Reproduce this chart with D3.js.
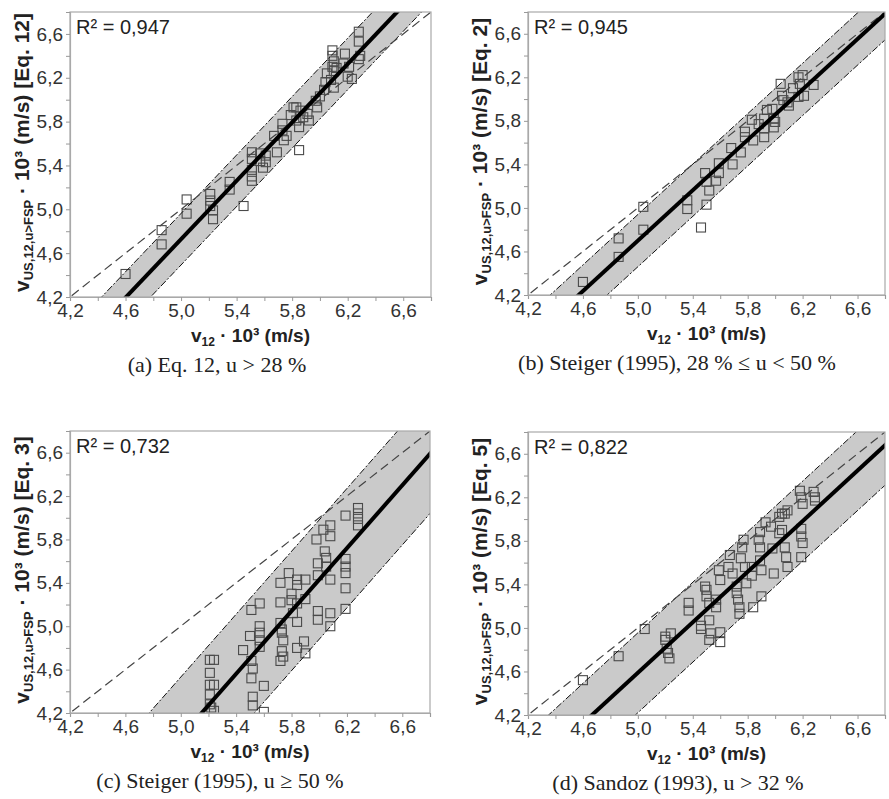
<!DOCTYPE html>
<html>
<head>
<meta charset="utf-8">
<script src="https://cdn.jsdelivr.net/npm/d3@7"></script>
<style>
  html, body { margin: 0; padding: 0; background: #fff; }
  svg { display: block; }
</style>
</head>
<body>
<svg id="chart" width="889" height="799"></svg>
<script>
// ---- data ----
const tickValues = [4.2, 4.4, 4.6, 4.8, 5.0, 5.2, 5.4, 5.6, 5.8, 6.0, 6.2, 6.4, 6.6, 6.8];
const majorTicks = [4.2, 4.6, 5.0, 5.4, 5.8, 6.2, 6.6];
const majorLabels = ['4,2', '4,6', '5,0', '5,4', '5,8', '6,2', '6,6'];

const ptsA = [
  [4.60, 4.41], [4.86, 4.81], [4.86, 4.68], [5.04, 5.09], [5.04, 4.96],
  [5.21, 5.14], [5.21, 5.08], [5.21, 5.03], [5.23, 4.99], [5.23, 4.91],
  [5.35, 5.25], [5.35, 5.18], [5.45, 5.03], [5.51, 5.52], [5.51, 5.46],
  [5.51, 5.36], [5.51, 5.30], [5.51, 5.26], [5.57, 5.51], [5.57, 5.44],
  [5.59, 5.38], [5.61, 5.49], [5.61, 5.43], [5.69, 5.52], [5.67, 5.67],
  [5.73, 5.78], [5.73, 5.72], [5.74, 5.63], [5.76, 5.67], [5.79, 5.86],
  [5.83, 5.93], [5.83, 5.81], [5.85, 5.75], [5.85, 5.54], [5.81, 5.93],
  [5.86, 5.90], [5.88, 5.84], [5.91, 5.87], [5.92, 5.81], [5.97, 5.99],
  [5.98, 5.93], [6.00, 6.03], [6.03, 6.09], [6.04, 6.16], [6.05, 6.24],
  [6.08, 6.18], [6.09, 6.30], [6.09, 6.45], [6.09, 6.40], [6.10, 6.35],
  [6.10, 6.26], [6.10, 6.11], [6.12, 6.29], [6.17, 6.33], [6.18, 6.42],
  [6.20, 6.21], [6.21, 6.30], [6.23, 6.19], [6.28, 6.62], [6.28, 6.53],
  [6.28, 6.37], [6.29, 6.40]
];

const ptsB = [
  [4.60, 4.32], [4.86, 4.72], [4.86, 4.55], [5.04, 5.01], [5.04, 4.80],
  [5.36, 5.07], [5.36, 4.99], [5.46, 4.82], [5.49, 5.32], [5.50, 5.24],
  [5.50, 5.03], [5.52, 5.16], [5.57, 5.25], [5.59, 5.41], [5.59, 5.32],
  [5.68, 5.55], [5.69, 5.40], [5.75, 5.51], [5.78, 5.70], [5.78, 5.65],
  [5.83, 5.81], [5.84, 5.62], [5.88, 5.77], [5.92, 5.82], [5.92, 5.73],
  [5.92, 5.65], [5.94, 5.90], [5.98, 5.91], [5.99, 5.82], [5.99, 5.74],
  [6.00, 5.79], [6.04, 6.14], [6.05, 6.03], [6.06, 5.99], [6.09, 5.97],
  [6.10, 5.94], [6.13, 6.10], [6.17, 6.20], [6.17, 6.02], [6.18, 6.14],
  [6.20, 6.22], [6.21, 6.03], [6.28, 6.13]
];

const ptsC = [
  [5.21, 4.69], [5.21, 4.57], [5.21, 4.46], [5.21, 4.37], [5.21, 4.28],
  [5.22, 4.25], [5.24, 4.22], [5.24, 4.69], [5.24, 4.46], [5.45, 4.78],
  [5.50, 4.91], [5.51, 5.15], [5.51, 4.68], [5.52, 4.61], [5.51, 4.52],
  [5.52, 4.35], [5.52, 4.27], [5.57, 5.21], [5.57, 5.00], [5.57, 4.94],
  [5.57, 4.87], [5.57, 4.81], [5.60, 4.45], [5.60, 4.21], [5.72, 5.40],
  [5.72, 5.22], [5.72, 5.03], [5.73, 4.97], [5.73, 4.94], [5.74, 4.87],
  [5.73, 4.77], [5.72, 4.68], [5.74, 4.72], [5.78, 5.49], [5.80, 5.30],
  [5.80, 5.24], [5.81, 5.12], [5.84, 5.43], [5.84, 5.38], [5.84, 5.21],
  [5.84, 5.04], [5.84, 4.80], [5.90, 5.43], [5.90, 5.25], [5.89, 4.86],
  [5.90, 4.75], [5.98, 5.80], [5.99, 5.58], [5.99, 5.47], [5.99, 5.14],
  [5.99, 5.06], [6.03, 5.89], [6.04, 5.69], [6.05, 5.63], [6.05, 5.55],
  [6.08, 5.83], [6.08, 5.93], [6.08, 5.43], [6.08, 5.12], [6.08, 5.00],
  [6.19, 6.02], [6.19, 5.62], [6.19, 5.55], [6.19, 5.49], [6.19, 5.35],
  [6.19, 5.16], [6.28, 6.09], [6.28, 6.04], [6.28, 5.99], [6.28, 5.93]
];

const ptsD = [
  [4.60, 4.52], [4.86, 4.74], [5.05, 4.99], [5.20, 4.92], [5.20, 4.89],
  [5.21, 4.81], [5.22, 4.77], [5.23, 4.72], [5.24, 4.95], [5.37, 5.23],
  [5.37, 5.16], [5.46, 5.02], [5.46, 4.99], [5.49, 5.38], [5.50, 5.35],
  [5.50, 5.29], [5.52, 5.23], [5.52, 5.07], [5.53, 4.95], [5.52, 4.89],
  [5.57, 5.26], [5.57, 5.19], [5.59, 5.53], [5.60, 5.44], [5.60, 4.96],
  [5.60, 4.87], [5.66, 5.56], [5.67, 5.67], [5.69, 5.50], [5.72, 5.38],
  [5.72, 5.32], [5.73, 5.26], [5.74, 5.19], [5.74, 5.13], [5.75, 5.64],
  [5.76, 5.74], [5.77, 5.81], [5.78, 5.56], [5.79, 5.41], [5.83, 5.56],
  [5.83, 5.48], [5.84, 5.19], [5.88, 5.81], [5.89, 5.88], [5.89, 5.74],
  [5.89, 5.62], [5.90, 5.53], [5.90, 5.29], [5.93, 5.97], [5.97, 5.93],
  [5.98, 5.73], [5.99, 5.50], [6.03, 6.02], [6.03, 5.87], [6.05, 6.05],
  [6.05, 5.90], [6.07, 6.05], [6.09, 6.08], [6.07, 5.74], [6.08, 5.65],
  [6.09, 5.56], [6.18, 6.26], [6.19, 6.20], [6.20, 6.14], [6.19, 5.91],
  [6.19, 5.84], [6.20, 5.78], [6.19, 5.65], [6.28, 6.25], [6.29, 6.20],
  [6.29, 6.17]
];

const fitSlope = [1.332, 1.158, 1.449, 1.161];
const fitIntercept = [-1.9325, -1.0909, -3.2638, -1.2172];
const bandHalf = [0.235, 0.24, 0.55, 0.367];
const r2Labels = ['R² = 0,947', 'R² = 0,945', 'R² = 0,732', 'R² = 0,822'];
const eqLabels = ['[Eq. 12]', '[Eq. 2]', '[Eq. 3]', '[Eq. 5]'];
const captions = [
  '(a) Eq. 12, u > 28 %',
  '(b) Steiger (1995), 28 % ≤ u < 50 %',
  '(c) Steiger (1995), u ≥ 50 %',
  '(d) Sandoz (1993), u > 32 %'
];
const allPoints = [ptsA, ptsB, ptsC, ptsD];

// ---- layout ----
const boxes = [
  { left: 70, top: 12, right: 431, bottom: 297, capX: 217 },
  { left: 528, top: 12, right: 885, bottom: 295, capX: 677 },
  { left: 70, top: 431, right: 430, bottom: 713, capX: 220 },
  { left: 528, top: 432, right: 885, bottom: 715, capX: 678 }
];

const SANS = "'Liberation Sans', Arial, sans-serif";
const SERIF = "'Liberation Serif', 'Times New Roman', serif";

const svg = d3.select('#chart');

function drawPanel(i) {
  const b = boxes[i];
  const W = b.right - b.left, H = b.bottom - b.top;
  const g = svg.append('g').attr('transform', `translate(${b.left},${b.top})`);

  const x = d3.scaleLinear().domain([4.2, 6.8]).range([0, W]);
  const y = d3.scaleLinear().domain([4.2, 6.8]).range([H, 0]);

  const clipId = 'clip' + i;
  g.append('clipPath').attr('id', clipId)
    .append('rect').attr('width', W).attr('height', H);
  const plot = g.append('g').attr('clip-path', `url(#${clipId})`);

  const s = fitSlope[i], c = fitIntercept[i], h = bandHalf[i];
  const xs = [3.5, 7.5];

  // prediction band
  plot.append('path')
    .datum(xs)
    .attr('fill', '#cacaca')
    .attr('d', d3.area().x(d => x(d)).y0(d => y(s * d + c - h)).y1(d => y(s * d + c + h)));

  // points
  plot.selectAll('rect.pt')
    .data(allPoints[i]).enter().append('rect')
    .attr('class', 'pt')
    .attr('x', d => x(d[0]) - 4.5).attr('y', d => y(d[1]) - 4.5)
    .attr('width', 9).attr('height', 9)
    .attr('fill', 'none').attr('stroke', '#4a4a4a').attr('stroke-width', 1.1);

  const line = d3.line().x(d => x(d[0])).y(d => y(d[1]));

  // band edges
  [h, -h].forEach(off => {
    plot.append('path')
      .datum(xs.map(v => [v, s * v + c + off]))
      .attr('fill', 'none').attr('stroke', '#111').attr('stroke-width', 1)
      .attr('stroke-dasharray', '7,2,2,2')
      .attr('d', line);
  });

  // 1:1 line
  plot.append('path')
    .datum(xs.map(v => [v, v]))
    .attr('fill', 'none').attr('stroke', '#444').attr('stroke-width', 1.2)
    .attr('stroke-dasharray', '9,5')
    .attr('d', line);

  // regression line
  plot.append('path')
    .datum(xs.map(v => [v, s * v + c]))
    .attr('fill', 'none').attr('stroke', '#000').attr('stroke-width', 4)
    .attr('d', line);

  // frame
  g.append('rect').attr('width', W).attr('height', H)
    .attr('fill', 'none').attr('stroke', '#a9a9a9').attr('stroke-width', 1.2);

  const fmt = d => {
    const k = majorTicks.findIndex(m => Math.abs(m - d) < 1e-6);
    return k < 0 ? '' : majorLabels[k];
  };

  const xAxis = g.append('g').attr('transform', `translate(0,${H})`)
    .call(d3.axisBottom(x).tickValues(tickValues).tickSize(4).tickPadding(3).tickFormat(fmt));
  const yAxis = g.append('g')
    .call(d3.axisLeft(y).tickValues(tickValues).tickSize(4).tickPadding(3).tickFormat(fmt));
  [xAxis, yAxis].forEach(ax => {
    ax.select('.domain').attr('stroke', '#a9a9a9').attr('stroke-width', 1.2);
    ax.selectAll('.tick line').attr('stroke', '#999');
    ax.selectAll('text').attr('fill', '#333').attr('font-family', SANS).attr('font-size', '19px');
  });

  // R² label
  g.append('text')
    .attr('x', 6).attr('y', 22)
    .attr('font-family', SANS).attr('font-size', '20px').attr('fill', '#222')
    .text(r2Labels[i]);

  // x title
  const xt = g.append('text')
    .attr('x', W / 2).attr('y', H + 45)
    .attr('text-anchor', 'middle')
    .attr('font-family', SANS).attr('font-size', '19px').attr('font-weight', 'bold').attr('fill', '#222');
  xt.append('tspan').text('v');
  xt.append('tspan').attr('font-size', '12px').attr('dy', 4).text('12');
  xt.append('tspan').attr('dy', -4).text(' · 10³ (m/s)');

  // y title
  const yt = g.append('text')
    .attr('transform', `translate(-41,${H / 2 - 2}) rotate(-90)`)
    .attr('text-anchor', 'middle')
    .attr('font-family', SANS).attr('font-size', '21px').attr('font-weight', 'bold').attr('fill', '#222');
  yt.append('tspan').text('v');
  yt.append('tspan').attr('font-size', '13px').attr('dy', 4).text('US,12,u>FSP');
  yt.append('tspan').attr('dy', -4).text(' · 10³ (m/s) ' + eqLabels[i]);

  // caption
  svg.append('text')
    .attr('x', b.capX).attr('y', b.bottom + 75)
    .attr('text-anchor', 'middle')
    .attr('font-family', SERIF).attr('font-size', '22px').attr('fill', '#222')
    .text(captions[i]);
}

[0, 1, 2, 3].forEach(drawPanel);
</script>
</body>
</html>
